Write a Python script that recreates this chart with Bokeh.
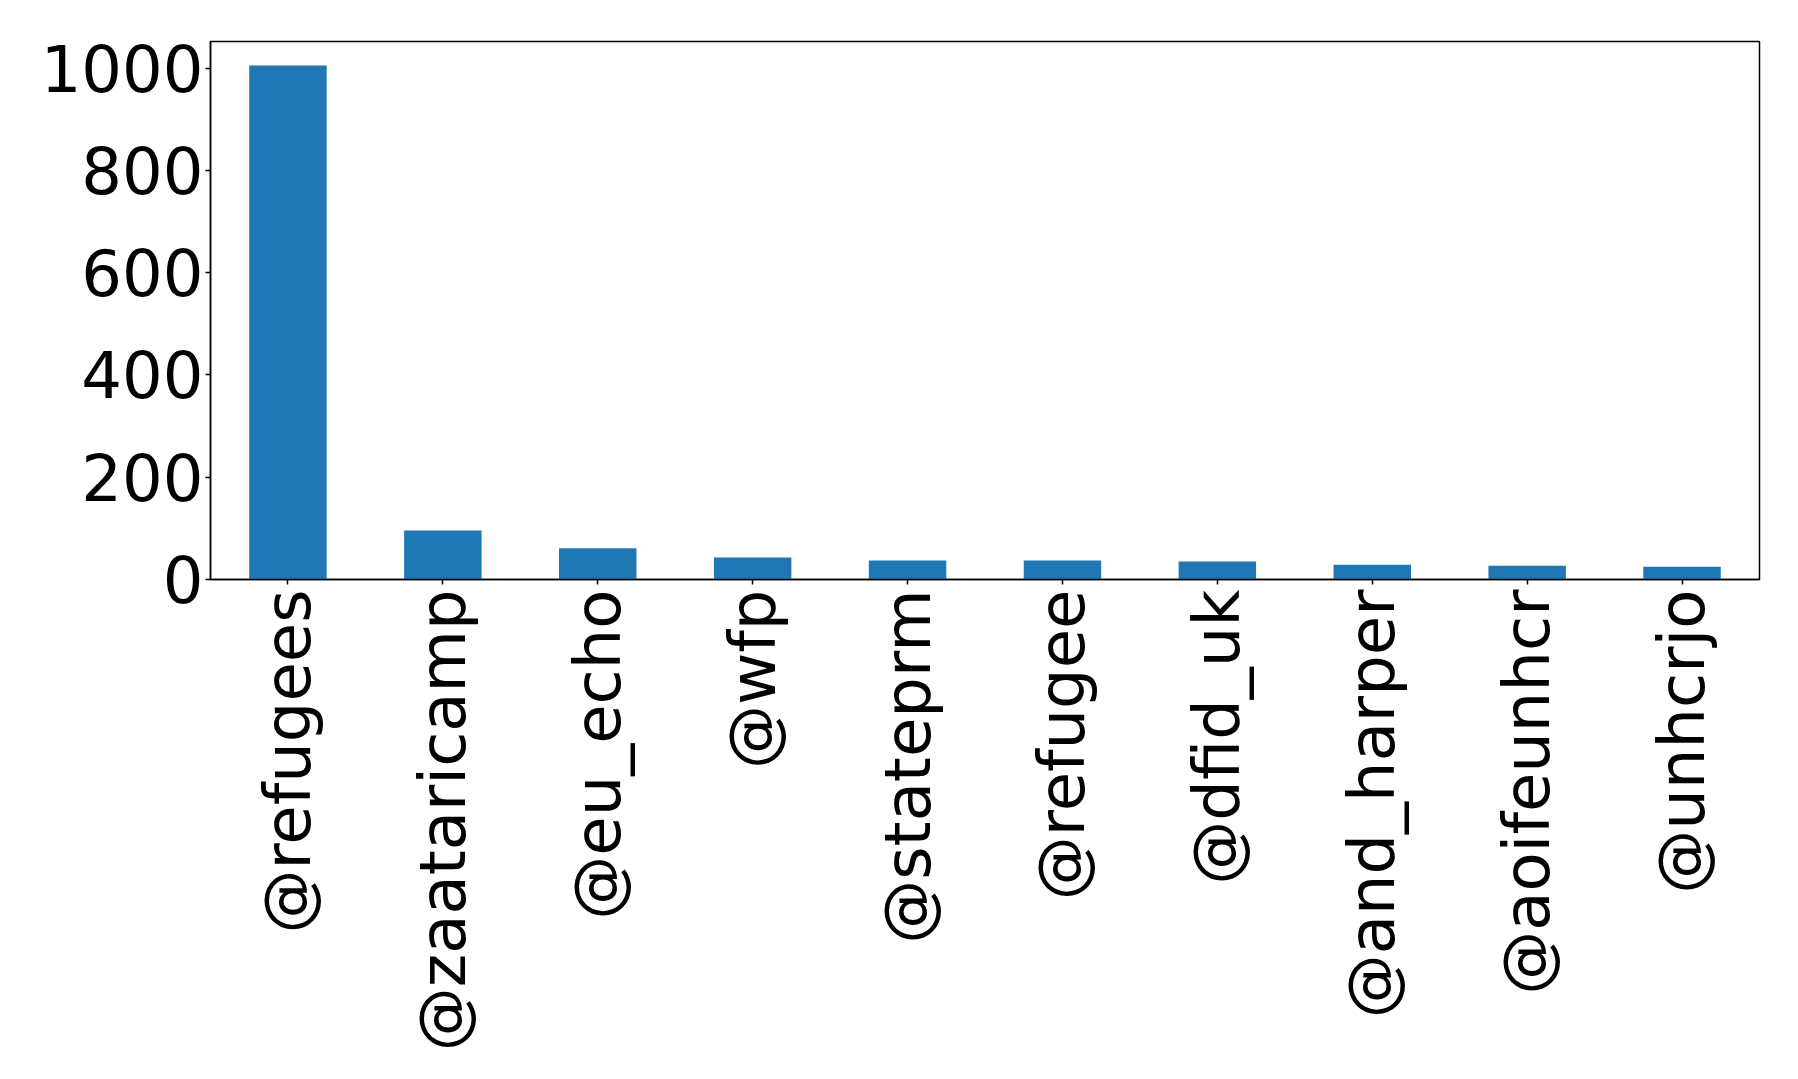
import math
from bokeh.plotting import figure
from bokeh.models import Range1d, FactorRange, ColumnDataSource
from bokeh.embed import file_html
from bokeh.resources import INLINE

handles = ["@refugees", "@zaataricamp", "@eu_echo", "@wfp", "@stateprm",
           "@refugee", "@dfid_uk", "@and_harper", "@aoifeunhcr", "@unhcrjo"]
counts = [1005, 96, 61, 43, 37, 37, 35, 29, 27, 25]
y_ticks = [0, 200, 400, 600, 800, 1000]

src = ColumnDataSource(data=dict(handle=handles, count=counts))

W, H = 1790, 1070
p = figure(width=W, height=H, x_range=FactorRange(*handles),
           y_range=Range1d(0, 1052), output_backend="svg",
           toolbar_location=None, min_border_left=210, min_border_right=W - 1759,
           min_border_top=41, min_border_bottom=H - 579)

p.vbar(x="handle", top="count", width=0.5, source=src,
       fill_color="#1f77b4", line_color=None)

p.xgrid.visible = False
p.ygrid.visible = False
p.outline_line_color = "black"
p.outline_line_width = 1.5
p.background_fill_color = "white"
p.border_fill_color = "white"

for ax in (p.xaxis[0], p.yaxis[0]):
    ax.major_label_text_font = "DejaVu Sans"
    ax.major_label_text_font_size = "64px"
    ax.major_label_text_color = "black"
    ax.axis_line_color = "black"
    ax.axis_line_width = 1.5
    ax.major_tick_line_color = "black"
    ax.major_tick_line_width = 1.5
    ax.major_tick_out = 5
    ax.major_tick_in = 0
    ax.minor_tick_line_color = None

p.yaxis[0].ticker = y_ticks
p.yaxis[0].major_label_standoff = 2
p.xaxis[0].major_label_orientation = math.pi / 2
p.xaxis[0].major_label_standoff = 5

open("out.html", "w").write(file_html(p, INLINE))
